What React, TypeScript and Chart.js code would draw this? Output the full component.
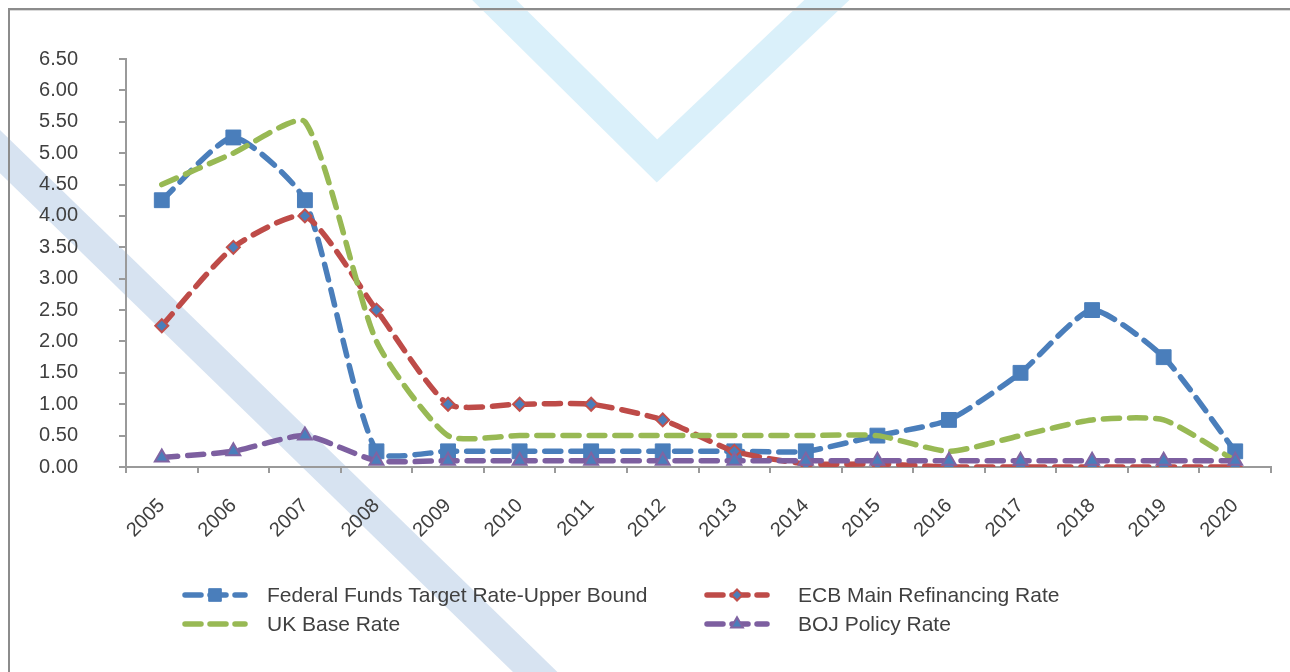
import React, { useEffect, useRef } from "react";
import { Chart, registerables } from "chart.js";

Chart.register(...registerables);

const years = ["2005", "2006", "2007", "2008", "2009", "2010", "2011", "2012", "2013", "2014", "2015", "2016", "2017", "2018", "2019", "2020"];
const fedFunds = [4.25, 5.25, 4.25, 0.25, 0.25, 0.25, 0.25, 0.25, 0.25, 0.25, 0.5, 0.75, 1.5, 2.5, 1.75, 0.25];
const ecbRate = [2.25, 3.5, 4.0, 2.5, 1.0, 1.0, 1.0, 0.75, 0.25, 0.05, 0.05, 0, 0, 0, 0, 0];
const ukBase = [4.5, 5.0, 5.5, 2.0, 0.5, 0.5, 0.5, 0.5, 0.5, 0.5, 0.5, 0.25, 0.5, 0.75, 0.75, 0.1];
const bojRate = [0.15, 0.25, 0.5, 0.1, 0.1, 0.1, 0.1, 0.1, 0.1, 0.1, 0.1, 0.1, 0.1, 0.1, 0.1, 0.1];
const seriesNames = ["Federal Funds Target Rate-Upper Bound", "ECB Main Refinancing Rate", "UK Base Rate", "BOJ Policy Rate"];
const yTicksMin = 0;
const yTicksMax = 6.5;
const yStep = 0.5;

const FONT = "'Liberation Sans', Arial, sans-serif";
const TEXT = "#404040";
const AXIS = "#9a9a9a";

function drawMarker(ctx: CanvasRenderingContext2D, style: string, x: number, y: number, r: number, bg: string, bc: string, bw: number) {
  ctx.save();
  ctx.setLineDash([]);
  ctx.beginPath();
  if (style === "rect") {
    const s = r * Math.SQRT1_2;
    ctx.rect(x - s, y - s, 2 * s, 2 * s);
  } else if (style === "rectRot") {
    ctx.moveTo(x - r, y);
    ctx.lineTo(x, y - r);
    ctx.lineTo(x + r, y);
    ctx.lineTo(x, y + r);
    ctx.closePath();
  } else if (style === "triangle") {
    let a = 0;
    ctx.moveTo(x + Math.sin(a) * r, y - Math.cos(a) * r);
    a += (2 * Math.PI) / 3;
    ctx.lineTo(x + Math.sin(a) * r, y - Math.cos(a) * r);
    a += (2 * Math.PI) / 3;
    ctx.lineTo(x + Math.sin(a) * r, y - Math.cos(a) * r);
    ctx.closePath();
  }
  ctx.fillStyle = bg;
  ctx.fill();
  if (bw > 0) {
    ctx.lineWidth = bw;
    ctx.strokeStyle = bc;
    ctx.stroke();
  }
  ctx.restore();
}

const backgroundPlugin = {
  id: "bgWatermark",
  beforeDraw(chart: any) {
    const ctx: CanvasRenderingContext2D = chart.ctx;
    ctx.save();
    ctx.fillStyle = "#ffffff";
    ctx.fillRect(0, 0, chart.width, chart.height);
    // left diagonal band
    ctx.strokeStyle = "#d7e3f1";
    ctx.lineWidth = 31;
    ctx.lineCap = "butt";
    ctx.beginPath();
    ctx.moveTo(-50, 103);
    ctx.lineTo(600, 735);
    ctx.stroke();
    // top V
    ctx.strokeStyle = "#daf0fa";
    ctx.lineWidth = 31;
    ctx.lineJoin = "miter";
    ctx.beginPath();
    ctx.moveTo(474, -20);
    ctx.lineTo(657, 161);
    ctx.lineTo(848, -20);
    ctx.stroke();
    // frame
    ctx.fillStyle = "#8c8c8c";
    ctx.fillRect(8, 8, chart.width, 2);
    ctx.fillRect(8, 8, 2, chart.height);
    ctx.fillStyle = "#d9d9d9";
    ctx.fillRect(10, 10, chart.width, 1);
    ctx.restore();
  },
};

const legendPlugin = {
  id: "gridLegend",
  afterDraw(chart: any) {
    const ctx: CanvasRenderingContext2D = chart.ctx;
    const symX = [185, 707];
    const textX = [267, 798];
    const rowY = [595, 624];
    chart.data.datasets.forEach((ds: any, i: number) => {
      const col = i % 2;
      const row = Math.floor(i / 2);
      const x0 = symX[col];
      const y = rowY[row];
      ctx.save();
      ctx.strokeStyle = ds.borderColor;
      ctx.lineWidth = 5.5;
      ctx.lineCap = "round";
      ctx.setLineDash([16, 9]);
      ctx.beginPath();
      ctx.moveTo(x0, y);
      ctx.lineTo(x0 + 60, y);
      ctx.stroke();
      ctx.restore();
      if (ds.pointRadius > 0) {
        drawMarker(ctx, ds.pointStyle, x0 + 30, y, ds.pointRadius * 0.85, ds.pointBackgroundColor, ds.pointBorderColor, ds.pointBorderWidth);
      }
      ctx.save();
      ctx.fillStyle = TEXT;
      ctx.font = `21px ${FONT}`;
      ctx.textAlign = "left";
      ctx.textBaseline = "middle";
      ctx.fillText(ds.label, textX[col], y + 1);
      ctx.restore();
    });
  },
};

export default function App() {
  const canvasRef = useRef<HTMLCanvasElement | null>(null);

  useEffect(() => {
    if (!canvasRef.current) return;
    const lineCommon = {
      fill: false,
      tension: 0.2,
      borderWidth: 5.5,
      borderDash: [16, 10],
      borderCapStyle: "round" as const,
      borderJoinStyle: "round" as const,
    };
    const chart = new Chart(canvasRef.current, {
      type: "line",
      data: {
        labels: years,
        datasets: [
          {
            ...lineCommon,
            label: seriesNames[0],
            data: fedFunds,
            borderColor: "#4a7ebb",
            pointStyle: "rect",
            pointRadius: 10.5,
            pointBackgroundColor: "#4a7ebb",
            pointBorderColor: "#4a7ebb",
            pointBorderWidth: 1,
            order: 4,
          },
          {
            ...lineCommon,
            label: seriesNames[1],
            data: ecbRate,
            borderColor: "#be4b48",
            pointStyle: "rectRot",
            pointRadius: 6.5,
            pointBackgroundColor: "#4a7ebb",
            pointBorderColor: "#c0504d",
            pointBorderWidth: 2,
            order: 3,
          },
          {
            ...lineCommon,
            label: seriesNames[2],
            data: ukBase,
            borderColor: "#98b954",
            pointRadius: 0,
            pointStyle: "circle",
            pointBackgroundColor: "#98b954",
            pointBorderColor: "#98b954",
            pointBorderWidth: 0,
            order: 2,
          },
          {
            ...lineCommon,
            label: seriesNames[3],
            data: bojRate,
            borderColor: "#7d5fa0",
            pointStyle: "triangle",
            pointRadius: 8,
            pointBackgroundColor: "#4a7ebb",
            pointBorderColor: "#8064a2",
            pointBorderWidth: 2,
            order: 1,
          },
        ],
      },
      options: {
        responsive: false,
        animation: false,
        devicePixelRatio: 1,
        layout: { padding: { left: 0, top: 59, right: 19, bottom: 65 } },
        plugins: {
          legend: { display: false },
          tooltip: { enabled: false },
        },
        scales: {
          x: {
            type: "category",
            offset: true,
            grid: {
              offset: true,
              drawOnChartArea: false,
              drawTicks: true,
              tickLength: 6,
              color: AXIS,
              lineWidth: 2,
            },
            border: { display: true, color: AXIS, width: 2 },
            ticks: {
              autoSkip: false,
              minRotation: 45,
              maxRotation: 45,
              padding: 21,
              color: TEXT,
              font: { family: FONT, size: 20 },
            },
            afterFit: (s: any) => {
              s.height = 140;
            },
          },
          y: {
            min: yTicksMin,
            max: yTicksMax,
            grid: {
              drawOnChartArea: false,
              drawTicks: true,
              tickLength: 7,
              color: AXIS,
              lineWidth: 2,
            },
            border: { display: true, color: AXIS, width: 2 },
            ticks: {
              stepSize: yStep,
              padding: 41,
              color: TEXT,
              font: { family: FONT, size: 20 },
              callback: (v: any) => Number(v).toFixed(2),
            },
            afterFit: (s: any) => {
              s.width = 126;
            },
          },
        },
      },
      plugins: [backgroundPlugin, legendPlugin],
    } as any);
    return () => chart.destroy();
  }, []);

  return (
    <div style={{ position: "fixed", left: 0, top: 0, width: 1290, height: 672, background: "#fff" }}>
      <canvas ref={canvasRef} width={1290} height={672} style={{ display: "block", width: 1290, height: 672 }} />
    </div>
  );
}
